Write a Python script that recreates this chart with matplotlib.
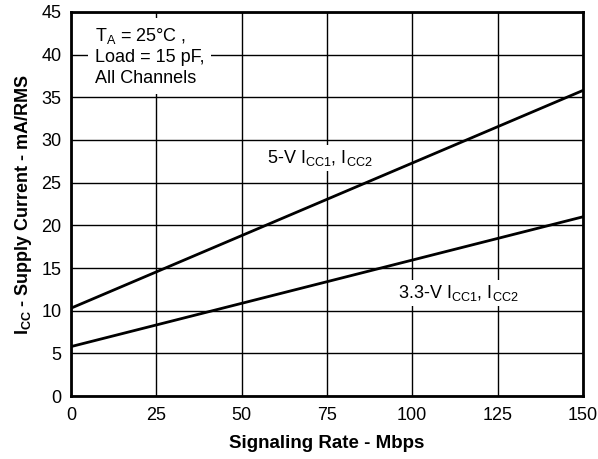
import matplotlib
matplotlib.use('Agg')
import matplotlib.pyplot as plt

plt.rcParams['font.family'] = ['Liberation Sans', 'DejaVu Sans']
plt.rcParams['mathtext.fontset'] = 'custom'
plt.rcParams['mathtext.rm'] = 'Liberation Sans'
plt.rcParams['mathtext.bf'] = 'Liberation Sans:bold'

# data
rate = [0, 150]
icc_5v = [10.3, 35.8]
icc_33v = [5.8, 21.0]
x_ticks = [0, 25, 50, 75, 100, 125, 150]
y_ticks = [0, 5, 10, 15, 20, 25, 30, 35, 40, 45]

fig = plt.figure(figsize=(5.98, 4.59), dpi=100)
ax = fig.add_axes([0.1187, 0.137, 0.856, 0.837])

ax.plot(rate, icc_5v, color='black', lw=2, zorder=3)
ax.plot(rate, icc_33v, color='black', lw=2, zorder=3)

ax.set_xlim(0, 150)
ax.set_ylim(0, 45)
ax.set_xticks(x_ticks)
ax.set_yticks(y_ticks)
ax.grid(True, color='black', lw=1)
ax.tick_params(length=0, labelsize=13)
ax.tick_params(axis='x', pad=8)
ax.tick_params(axis='y', pad=7)
for s in ax.spines.values():
    s.set_linewidth(2)

ax.set_xlabel('Signaling Rate - Mbps', fontsize=13.5, fontweight='bold', labelpad=8)
ax.set_ylabel(r'$\mathbf{I_{CC}}$ - Supply Current - mA/RMS', fontsize=13,
              fontweight='bold', labelpad=5)

ax.text(7.0, 43.4, 'T$_\\mathrm{A}$ = 25°C ,\nLoad = 15 pF,\nAll Channels',
        fontsize=13, va='top', ha='left', linespacing=1.3,
        bbox=dict(facecolor='white', edgecolor='none', pad=5), zorder=4)
ax.text(57.3, 27.9, '5-V I$_\\mathrm{CC1}$, I$_\\mathrm{CC2}$', fontsize=13,
        va='center', ha='left',
        bbox=dict(facecolor='white', edgecolor='none', pad=2), zorder=4)
ax.text(95.8, 12.1, '3.3-V I$_\\mathrm{CC1}$, I$_\\mathrm{CC2}$', fontsize=13,
        va='center', ha='left',
        bbox=dict(facecolor='white', edgecolor='none', pad=2), zorder=4)

fig.savefig('out.png', dpi=100)
